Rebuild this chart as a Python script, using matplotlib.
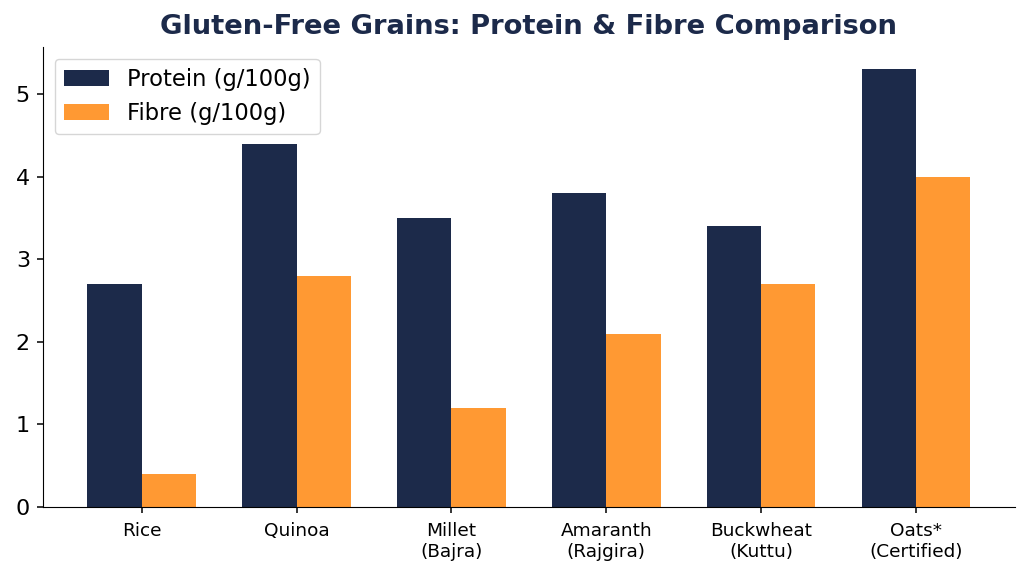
import matplotlib.pyplot as plt
import numpy as np

grains = ["Rice", "Quinoa", "Millet\n(Bajra)", "Amaranth\n(Rajgira)", "Buckwheat\n(Kuttu)", "Oats*\n(Certified)"]
protein = [2.7, 4.4, 3.5, 3.8, 3.4, 5.3]
fibre = [0.4, 2.8, 1.2, 2.1, 2.7, 4.0]

navy = "#1c2a4a"
orange = "#ff9933"

x = np.arange(len(grains))
w = 0.35

fig, ax = plt.subplots(figsize=(10.3, 5.78), dpi=100)
ax.bar(x, protein, w, color=navy, label="Protein (g/100g)")
ax.bar(x + w, fibre, w, color=orange, label="Fibre (g/100g)")

ax.set_xticks(x + w / 2)
ax.set_xticklabels(grains, fontsize=13.3)
ax.tick_params(axis="y", labelsize=16, pad=5)
ax.tick_params(axis="x", pad=6.5)
ax.tick_params(length=4.6, width=1.1)
ax.set_title("Gluten-Free Grains: Protein & Fibre Comparison", fontsize=19.7,
             fontweight="bold", color=navy, pad=10)
ax.spines["top"].set_visible(False)
ax.spines["right"].set_visible(False)
ax.legend(fontsize=16.3, loc="upper left")

plt.subplots_adjust(left=0.042, right=0.985, top=0.918, bottom=0.123)
plt.savefig("out.png")
